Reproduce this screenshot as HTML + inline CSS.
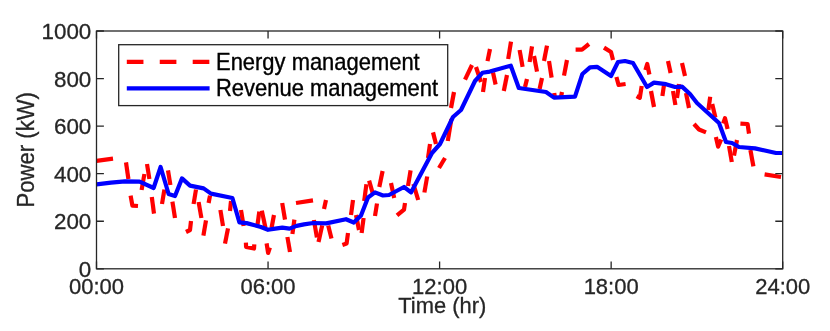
<!DOCTYPE html>
<html><head><meta charset="utf-8"><title>Power chart</title>
<style>
html,body{margin:0;padding:0;background:#fff;}
body{width:830px;height:331px;position:relative;overflow:hidden;font-family:"Liberation Sans",sans-serif;}
</style></head><body>
<svg width="830" height="331" viewBox="0 0 830 331" style="position:absolute;left:0;top:0;will-change:transform">
<g fill="none" stroke="#ff0000" stroke-width="4.2" stroke-linejoin="round" stroke-linecap="butt">
<polyline points="96.5,160.8 113,158.7"/>
<polyline points="126,162.4 128.4,179"/>
<polyline points="130.6,195.6 132.4,205.6 138,206"/>
<polyline points="141.6,190 144.4,174"/>
<polyline points="147,164 149.4,179"/>
<polyline points="151.8,197 154,213.6"/>
<polyline points="162,204 164.4,189.5"/>
<polyline points="168,170.4 170.4,185"/>
<polyline points="172.4,201.6 175,218"/>
<polyline points="186,232 190,230 191,221"/>
<polyline points="193.6,204 196,189.5"/>
<polyline points="198.6,202 201.4,218"/>
<polyline points="203.4,235.6 206,220.4"/>
<polyline points="208.6,203 210,195.6"/>
<polyline points="220.4,210 223,226"/>
<polyline points="230,211 231,201"/>
<polyline points="225,243.6 228,228.4"/>
<polyline points="241,210 243.6,226"/>
<polyline points="245.9,242.6 246.1,246.9 254,248.5 254.3,244.3"/>
<polyline points="257.4,225.5 259.3,211.6"/>
<polyline points="261.8,210.6 265.4,227.5"/>
<polyline points="266.6,243.4 268.1,253 269.9,247.6"/>
<polyline points="271.5,228 274,215"/>
<polyline points="282.2,203 285,219.6"/>
<polyline points="287.4,237 290,252"/>
<polyline points="292.4,234 294.4,219.6"/>
<polyline points="296,203 313,200.4"/>
<polyline points="313.9,220 316.9,237.5"/>
<polyline points="322.2,225.4 318.5,242"/>
<polyline points="328.2,225.5 331.5,238.5"/>
<polyline points="324,209 326,200"/>
<polyline points="342.4,245 346.6,243.6 348,233"/>
<polyline points="351,215 353,200"/>
<polyline points="356,215 359,230"/>
<polyline points="361.6,233 363.6,218"/>
<polyline points="364.2,201 366.4,184.2"/>
<polyline points="369.1,180.6 372.8,193.5"/>
<polyline points="375,216 377,203.5"/>
<polyline points="379.3,187 382.6,171"/>
<polyline points="391,183 394.2,198"/>
<polyline points="397,215.4 404,209.6 405,203"/>
<polyline points="408,186 410.6,170.4"/>
<polyline points="413.4,184 418.2,200"/>
<polyline points="424.4,192.5 427.2,176.5"/>
<polyline points="428,158 430,144"/>
<polyline points="433,132.4 436,144"/>
<polyline points="439,168 445,158"/>
<polyline points="447.8,141 451.4,119"/>
<polyline points="451,108 454,92"/>
<polyline points="465,79.6 472,65"/>
<polyline points="476,67 481,82"/>
<polyline points="483,92 485,78"/>
<polyline points="487.5,61.2 490,49"/>
<polyline points="493,72.5 495.6,84.5"/>
<polyline points="503.8,91 507,75"/>
<polyline points="508.2,59 511,41.6"/>
<polyline points="519.6,50 522.6,66.8"/>
<polyline points="525,87 527,79"/>
<polyline points="529.6,62 532,46.4"/>
<polyline points="534,56 537,71.6"/>
<polyline points="539.6,89 542,78"/>
<polyline points="544,61 547,45.6"/>
<polyline points="549,61 551.6,77.6"/>
<polyline points="554.2,93 555,98"/>
<polyline points="560.8,98 562,92"/>
<polyline points="564,75.6 567,60"/>
<polyline points="575.6,49.6 582,49.6 589,44"/>
<polyline points="604,47.6 611,52 613,60"/>
<polyline points="616.4,77 618.6,85 625.6,84"/>
<polyline points="636.6,96.2 639.8,97.8 641.7,86"/>
<polyline points="645.4,70 647.2,64 649.4,74.5"/>
<polyline points="651,91 654,107"/>
<polyline points="662.4,96 664,85"/>
<polyline points="668,61 670.6,73"/>
<polyline points="673,91 675.4,105"/>
<polyline points="677,98 679,84"/>
<polyline points="682,63 685,76"/>
<polyline points="686,93 689,108"/>
<polyline points="694,124 699,129.5 706,132.4"/>
<polyline points="708.4,110 710.2,96.8"/>
<polyline points="712.2,104 715.4,117.6"/>
<polyline points="715.9,137 718.1,146.6 721.2,139.5"/>
<polyline points="723.2,123.5 725,118.2 727.6,129"/>
<polyline points="729,146 731.8,162"/>
<polyline points="734,155.6 737,140"/>
<polyline points="740.4,123.6 747.6,124 749,133.6"/>
<polyline points="750.4,150 753.4,166.4"/>
<polyline points="764.6,174.4 781,177"/>
</g>
<polyline fill="none" stroke="#0000ff" stroke-width="4.2" stroke-linejoin="round" points="96.5,184.4 111,182.6 125,181.3 139.6,181.7 153.6,188 160.6,167 168.6,194 175,196 182,178.4 190,185.6 203.6,188.4 211,193.6 232.4,198 239.4,222.3 246.6,223.1 253.7,225 260.9,227 268,229.8 275.2,228.6 282.3,227.6 289.5,228.6 296.6,225.9 304,224.4 313.2,223 326.2,223.4 346,219.2 353.8,222.5 361,215.6 368,197.5 375,192.4 383,195.5 389,195 404,187 411,192.4 432,153 440,144 453,117 461,110 475,81 482.4,72.8 489.8,71.6 510.8,65.7 518.8,88 546,92 554,97.6 575,96.7 582.4,74 590,67.3 597,66.8 611,76 618,62 625,61 633,63 647,87 654,82.6 666,84.2 675,87 682,86.6 690,94 697,103 719,123 726,142 732,143 739,147 755,148.4 776,153 782.5,153"/>
<g fill="none" stroke="#262626" stroke-width="1.3">
<rect x="96.5" y="31.0" width="686.2" height="237.8"/>
<path d="M96.5 268.8v-7.4M96.5 31.0v7.4"/>
<path d="M268.05 268.8v-7.4M268.05 31.0v7.4"/>
<path d="M439.6 268.8v-7.4M439.6 31.0v7.4"/>
<path d="M611.1500000000001 268.8v-7.4M611.1500000000001 31.0v7.4"/>
<path d="M782.7 268.8v-7.4M782.7 31.0v7.4"/>
<path d="M96.5 268.8h7.4M782.7 268.8h-7.4"/>
<path d="M96.5 221.24h7.4M782.7 221.24h-7.4"/>
<path d="M96.5 173.68h7.4M782.7 173.68h-7.4"/>
<path d="M96.5 126.12h7.4M782.7 126.12h-7.4"/>
<path d="M96.5 78.56h7.4M782.7 78.56h-7.4"/>
<path d="M96.5 31.0h7.4M782.7 31.0h-7.4"/>
</g>
<rect x="118.7" y="44.7" width="329.0" height="60.89999999999999" fill="#fff" stroke="#262626" stroke-width="1.3"/>
<path d="M126.8 61.8H209.6" stroke="#ff0000" stroke-width="4.2" stroke-dasharray="16.65 16.3" fill="none"/>
<path d="M126.8 88.4H209.6" stroke="#0000ff" stroke-width="4.2" fill="none"/>
<g font-family="Liberation Sans, sans-serif" fill="#262626" stroke="#262626" stroke-width="0.3">
<text transform="translate(216 69.7) scale(1 1.05)" font-size="21.95" text-anchor="start" fill="#000" stroke="#000" stroke-width="0.35">Energy management</text>
<text transform="translate(216 96.4) scale(1 1.05)" font-size="21.95" text-anchor="start" fill="#000" stroke="#000" stroke-width="0.35">Revenue management</text>
<text transform="translate(96.5 294.4) scale(1 1.03)" font-size="22.0" text-anchor="middle">00:00</text>
<text transform="translate(268.05 294.4) scale(1 1.03)" font-size="22.0" text-anchor="middle">06:00</text>
<text transform="translate(439.6 294.4) scale(1 1.03)" font-size="22.0" text-anchor="middle">12:00</text>
<text transform="translate(611.1500000000001 294.4) scale(1 1.03)" font-size="22.0" text-anchor="middle">18:00</text>
<text transform="translate(782.7 294.4) scale(1 1.03)" font-size="22.0" text-anchor="middle">24:00</text>
<text transform="translate(91.3 276.75) scale(1 1.01)" font-size="22.4" text-anchor="end">0</text>
<text transform="translate(91.3 229.19) scale(1 1.01)" font-size="22.4" text-anchor="end">200</text>
<text transform="translate(91.3 181.63) scale(1 1.01)" font-size="22.4" text-anchor="end">400</text>
<text transform="translate(91.3 134.07) scale(1 1.01)" font-size="22.4" text-anchor="end">600</text>
<text transform="translate(91.3 86.51) scale(1 1.01)" font-size="22.4" text-anchor="end">800</text>
<text transform="translate(91.3 38.95) scale(1 1.01)" font-size="22.4" text-anchor="end">1000</text>
<text transform="translate(442.3 312.9) scale(1 1.0)" font-size="21.9" text-anchor="middle">Time (hr)</text>
<text transform="translate(34.2 149.8) rotate(-90) scale(1 1.09)" font-size="22.1" text-anchor="middle">Power (kW)</text>
</g>
</svg>
</body></html>
